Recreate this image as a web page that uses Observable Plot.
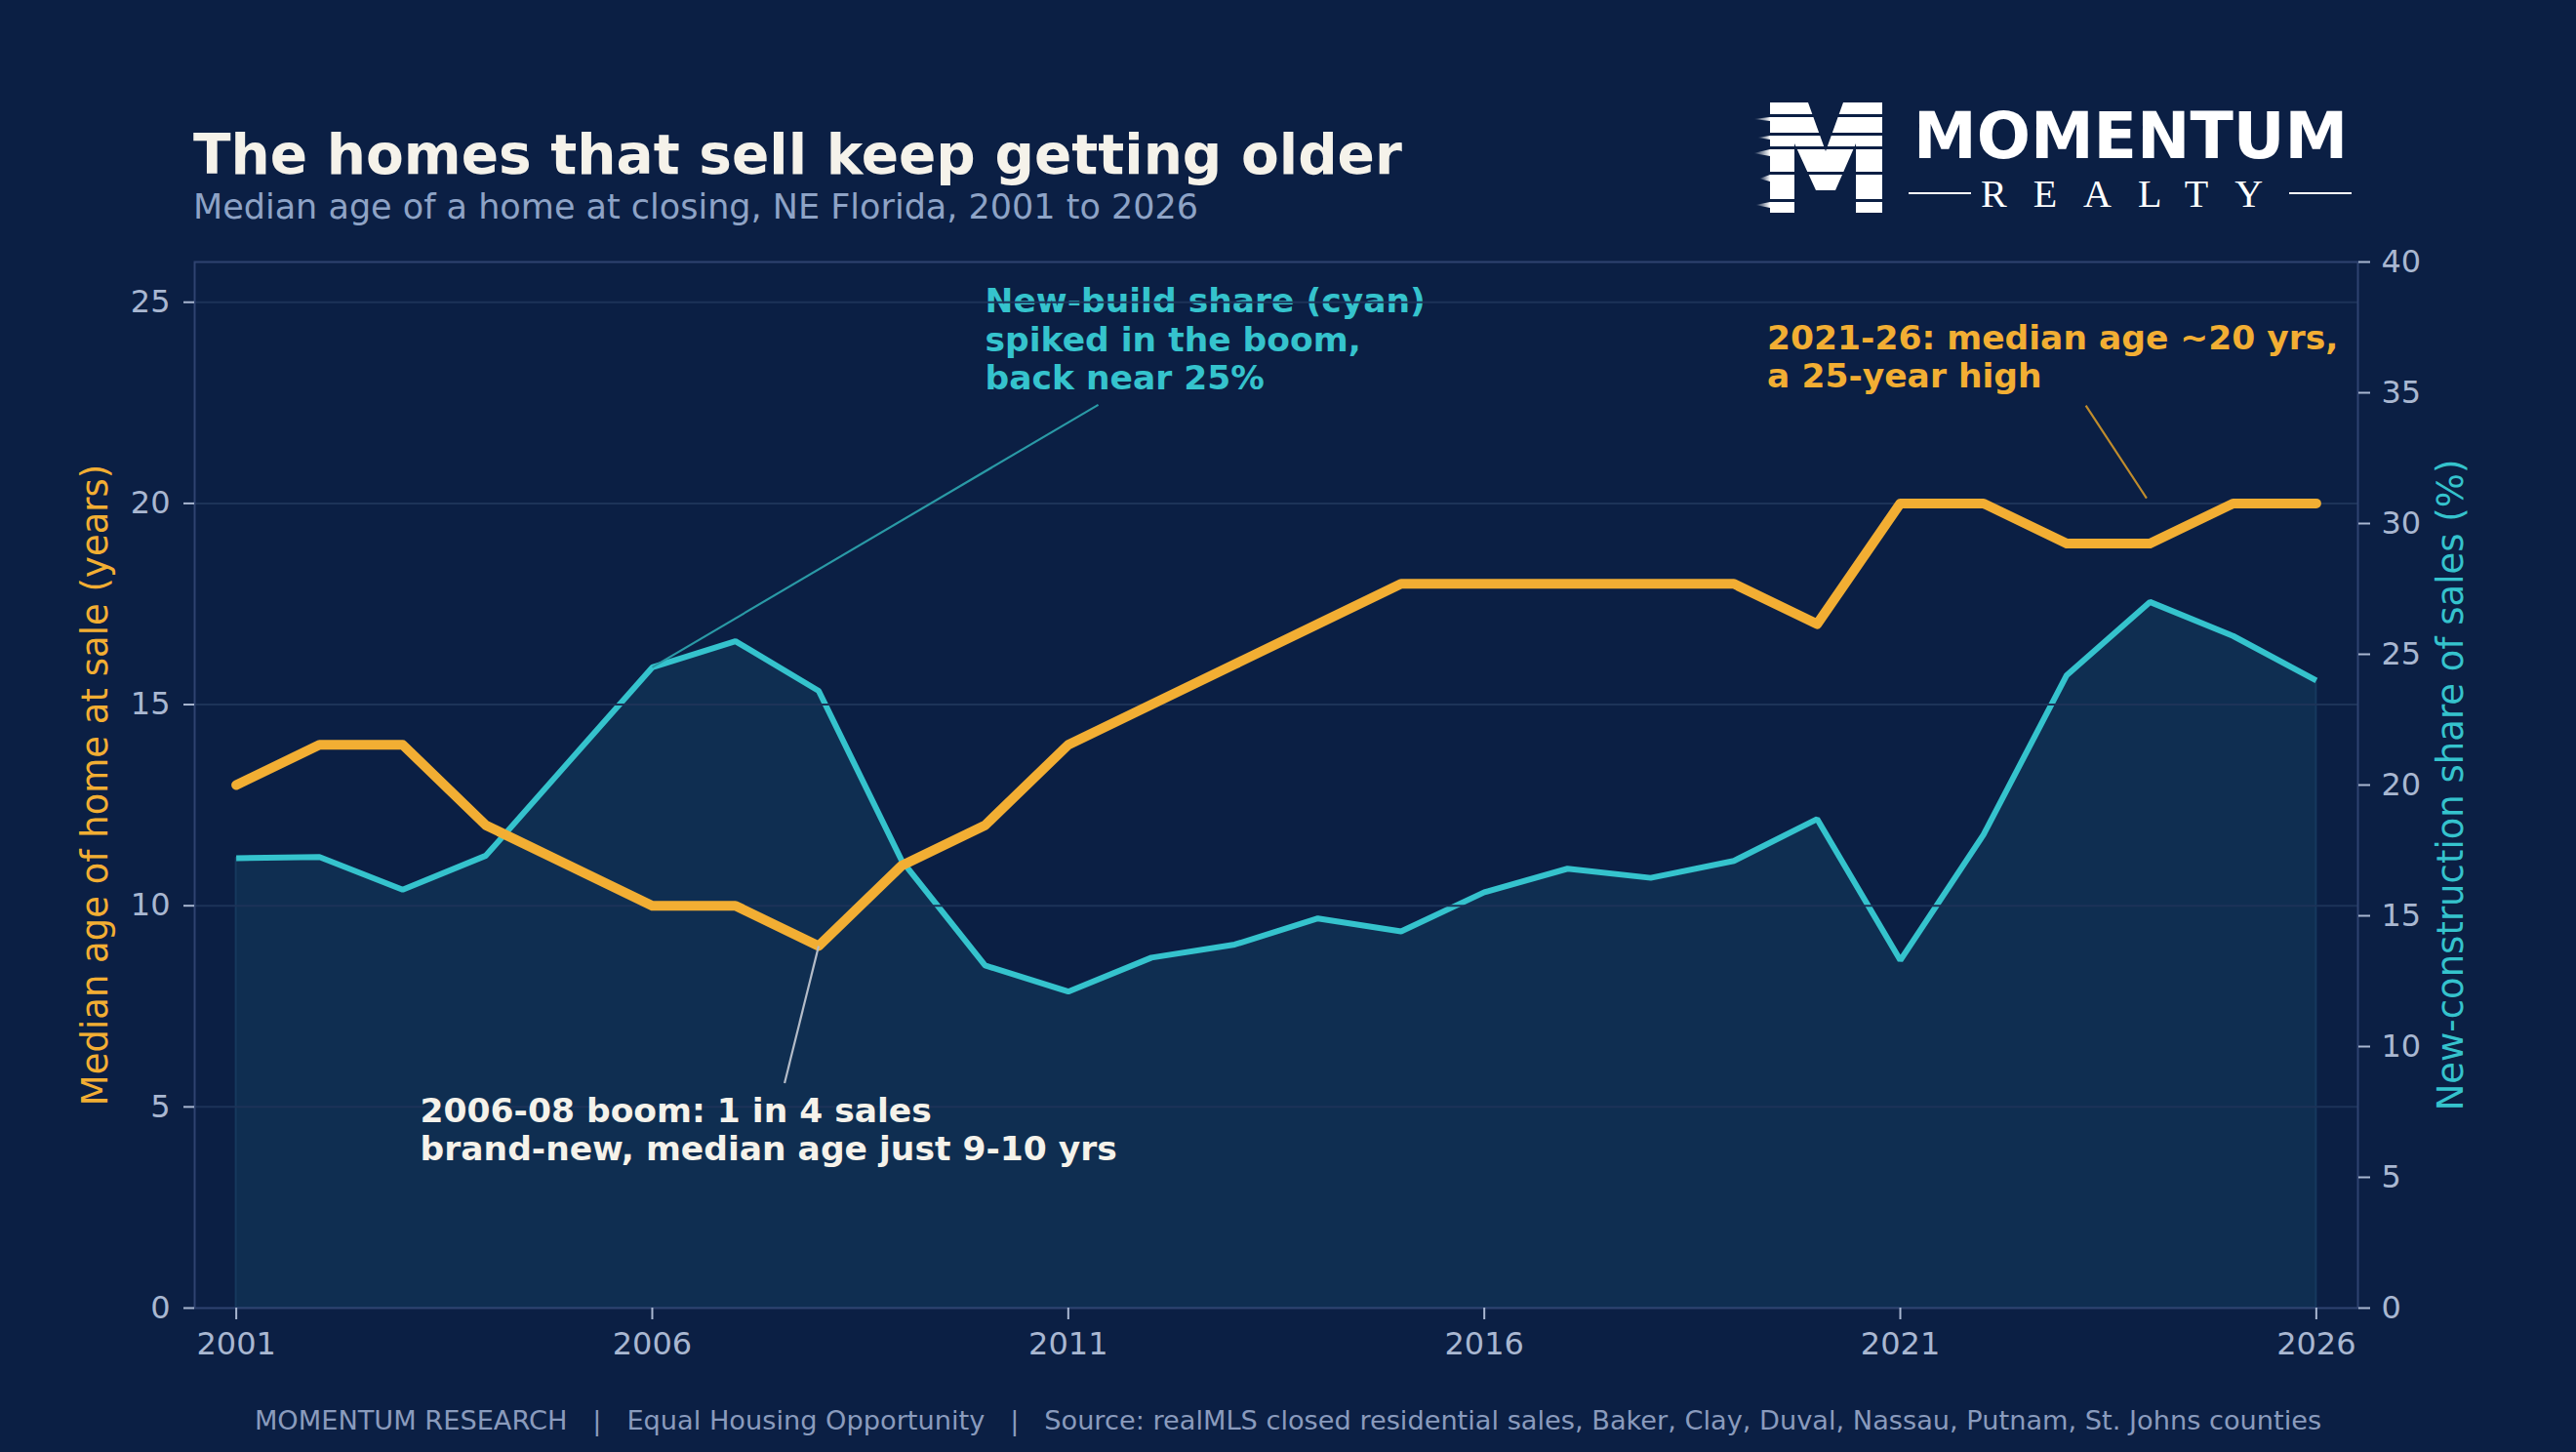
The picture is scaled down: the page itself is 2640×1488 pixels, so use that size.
<!DOCTYPE html>
<html>
<head>
<meta charset="utf-8">
<script src="https://cdn.jsdelivr.net/npm/d3@7"></script>
<script src="https://cdn.jsdelivr.net/npm/@observablehq/plot@0.6"></script>
<style>
  html, body { margin: 0; padding: 0; background: #0b1f44; }
  #wrap { position: relative; width: 2640px; height: 1488px; overflow: hidden; background: #0b1f44; font-family: "DejaVu Sans", sans-serif; }
  #chart { position: absolute; left: 0; top: 0; }
  #chart svg { display: block; }
  .overlay { position: absolute; left: 0; top: 0; pointer-events: none; }
</style>
</head>
<body>
<div id="wrap">
  <div id="chart"></div>
  <svg class="overlay" width="2640" height="1488" viewBox="0 0 2640 1488">
    <defs>
      <linearGradient id="streak" x1="0" x2="1" y1="0" y2="0">
        <stop offset="0" stop-color="#ffffff" stop-opacity="0"/>
        <stop offset="1" stop-color="#ffffff" stop-opacity="1"/>
      </linearGradient>
    </defs>
    <text x="198" y="178" font-family="DejaVu Sans" font-weight="bold" font-size="56.5" fill="#f5f2ea">The homes that sell keep getting older</text>
    <text x="198" y="224" font-family="DejaVu Sans" font-size="35" fill="#8ea3c6">Median age of a home at closing, NE Florida, 2001 to 2026</text>
    <!-- logo -->
    <g transform="translate(1797,105)">
      <path d="M17,0 L56,0 L74,50 L92,0 L132,0 L132,113 L105,113 L105,42 L84,90 L64,90 L42,42 L42,113 L17,113 Z" fill="#ffffff"/>
      <rect x="0" y="12" width="134" height="3" fill="#0b1f44"/>
      <rect x="0" y="31" width="134" height="3" fill="#0b1f44"/>
      <rect x="0" y="45" width="134" height="3" fill="#0b1f44"/>
      <rect x="0" y="71" width="134" height="3" fill="#0b1f44"/>
      <rect x="0" y="99" width="134" height="3" fill="#0b1f44"/>
      <polygon points="0,17 17,15 17,19" fill="url(#streak)"/>
      <polygon points="4,36 17,34 17,38" fill="url(#streak)"/>
      <polygon points="0,52 17,48 17,55" fill="url(#streak)"/>
      <polygon points="6,78 17,74 17,81" fill="url(#streak)"/>
      <polygon points="2,105 17,102 17,108" fill="url(#streak)"/>
      <polygon points="40,4 56,2 56,7" fill="url(#streak)"/>
      <polygon points="78,36 92,34 92,39" fill="url(#streak)"/>
      <polygon points="58,76 70,74 70,79" fill="url(#streak)"/>
    </g>
    <text x="1961" y="162" font-family="DejaVu Sans" font-weight="bold" font-size="65" fill="#ffffff">MOMENTUM</text>
    <line x1="1956" x2="2020" y1="198" y2="198" stroke="#ffffff" stroke-width="2"/>
    <line x1="2346" x2="2410" y1="198" y2="198" stroke="#ffffff" stroke-width="2"/>
    <text x="2030" y="212" font-family="Liberation Serif" font-size="40" letter-spacing="27" fill="#ffffff">REALTY</text>
    <!-- footer -->
    <text x="1320" y="1465" text-anchor="middle" font-family="DejaVu Sans" font-size="27.2" fill="#8a9bbd" xml:space="preserve">MOMENTUM RESEARCH   |   Equal Housing Opportunity   |   Source: realMLS closed residential sales, Baker, Clay, Duval, Nassau, Putnam, St. Johns counties</text>
  </svg>
</div>
<script>
// ---- data ----
const years = [2001, 2002, 2003, 2004, 2005, 2006, 2007, 2008, 2009, 2010, 2011, 2012, 2013,
               2014, 2015, 2016, 2017, 2018, 2019, 2020, 2021, 2022, 2023, 2024, 2025, 2026];
const medianAge = [13, 14, 14, 12, 11, 10, 10, 9, 11, 12, 14, 15, 16,
                   17, 18, 18, 18, 18, 18, 17, 20, 20, 19, 19, 20, 20];
const newShare = [17.2, 17.25, 16.0, 17.3, 20.9, 24.5, 25.5, 23.6, 17.1, 13.1, 12.1, 13.4, 13.9,
                  14.9, 14.4, 15.9, 16.8, 16.45, 17.1, 18.7, 13.3, 18.1, 24.2, 27.0, 25.7, 24.0];
const leftTicks = [0, 5, 10, 15, 20, 25];
const gridTicks = [5, 10, 15, 20, 25];
const rightTicks = [0, 5, 10, 15, 20, 25, 30, 35, 40];
const xTicks = [2001, 2006, 2011, 2016, 2021, 2026];
const leftMax = 26, rightMax = 40;

// annotations (x in years, y in left-axis units)
const noteText = [
  "New-build share (cyan)\nspiked in the boom,\nback near 25%",
  "2021-26: median age ~20 yrs,\na 25-year high",
  "2006-08 boom: 1 in 4 sales\nbrand-new, median age just 9-10 yrs"
];
const noteX = [2010.0, 2019.4, 2003.21];
const noteY = [25.43, 24.51, 5.31];
const noteColor = ["#35c3cd", "#f2ae33", "#f5f2ea"];
// leader lines (cyan one in right-axis %, others in left-axis years)
const leadX1 = [2011.36, 2023.23, 2007.59];
const leadY1 = [34.54, 22.43, 5.59];
const leadX2 = [2006, 2023.96, 2008];
const leadY2 = [24.5, 20.13, 9];
const leadRight = [true, false, false];
const leadColor = ["#2a9aa6", "#c08c2c", "#b4bcc8"];

// ---- build ----
const K = leftMax / rightMax;
const data = years.map((year, i) => ({year, age: medianAge[i], shareY: newShare[i] * K}));
const notes = noteText.map((t, i) => ({text: t, x: noteX[i], y: noteY[i], color: noteColor[i]}));
const leaders = leadX1.map((x, i) => ({
  x1: x, x2: leadX2[i],
  y1: leadRight[i] ? leadY1[i] * K : leadY1[i],
  y2: leadRight[i] ? leadY2[i] * K : leadY2[i],
  color: leadColor[i]
}));

const ORANGE = "#f2ae33", CYAN = "#35c3cd", TICK = "#a9b7d1", GRID = "#1d3358", SPINE = "#2f4370";
const AREA = "#0f2e51", AREA_EDGE = "#16395e";
const FONT = "DejaVu Sans";

const chart = Plot.plot({
  width: 2640,
  height: 1488,
  marginTop: 268, marginRight: 224, marginBottom: 148, marginLeft: 199,
  style: {background: "transparent", color: TICK, fontFamily: FONT, fontSize: "32px", overflow: "visible"},
  x: {domain: [2000.5, 2026.5]},
  y: {domain: [0, leftMax]},
  marks: [
    Plot.areaY(data, {x: "year", y: "shareY", fill: AREA, stroke: AREA_EDGE, strokeWidth: 2}),
    Plot.lineY(data, {x: "year", y: "shareY", stroke: CYAN, strokeWidth: 6, strokeLinejoin: "miter", strokeLinecap: "butt"}),
    Plot.text(notes.slice(0, 1), {x: "x", y: "y", text: "text", fill: "color", textAnchor: "start", lineAnchor: "top",
      lineHeight: 1.145, fontSize: 34.5, fontWeight: "bold", fontFamily: FONT}),
    Plot.gridY(gridTicks, {stroke: GRID, strokeOpacity: 1, strokeWidth: 2}),
    Plot.frame({stroke: SPINE, strokeWidth: 2}),
    Plot.lineY(data, {x: "year", y: "age", stroke: ORANGE, strokeWidth: 10, strokeLinejoin: "round", strokeLinecap: "round"}),
    Plot.link(leaders, {x1: "x1", y1: "y1", x2: "x2", y2: "y2", stroke: "color", strokeWidth: 2.2}),
    Plot.text(notes.slice(1), {x: "x", y: "y", text: "text", fill: "color", textAnchor: "start", lineAnchor: "top",
      lineHeight: 1.145, fontSize: 34.5, fontWeight: "bold", fontFamily: FONT}),
    Plot.axisY(leftTicks, {anchor: "left", label: null, tickSize: 11, tickPadding: 14, strokeWidth: 2,
      fill: TICK, stroke: TICK, fontSize: 32, fontFamily: FONT}),
    Plot.axisY(rightTicks.map(t => t * K), {anchor: "right", label: null, tickSize: 12, tickPadding: 12, strokeWidth: 2,
      tickFormat: d => String(Math.round(d / K)), fill: TICK, stroke: TICK, fontSize: 32, fontFamily: FONT}),
    Plot.axisX(xTicks, {anchor: "bottom", label: null, tickSize: 12, tickPadding: 13, strokeWidth: 2,
      tickFormat: d => String(d), fill: TICK, stroke: TICK, fontSize: 32, fontFamily: FONT}),
    Plot.text(["Median age of home at sale (years)"], {text: d => d, frameAnchor: "left", dx: -101, rotate: -90,
      textAnchor: "middle", lineAnchor: "middle", fill: ORANGE, fontSize: 37, fontFamily: FONT}),
    Plot.text(["New-construction share of sales (%)"], {text: d => d, frameAnchor: "right", dx: 96, rotate: -90,
      textAnchor: "middle", lineAnchor: "middle", fill: CYAN, fontSize: 37, fontFamily: FONT})
  ]
});
document.getElementById("chart").appendChild(chart);
</script>
</body>
</html>
